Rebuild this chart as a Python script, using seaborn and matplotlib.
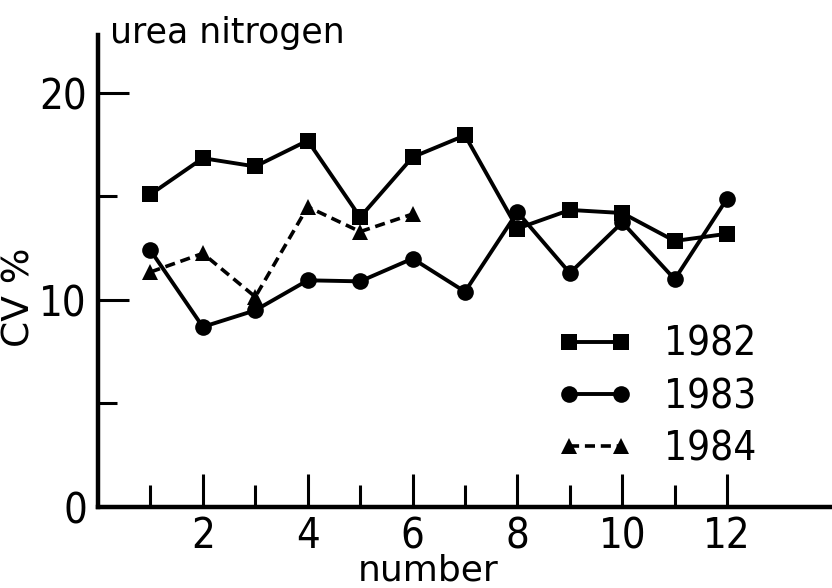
import matplotlib
matplotlib.use("Agg")
import matplotlib.pyplot as plt
import seaborn as sns
import pandas as pd

# ---- data ----
numbers = list(range(1, 13))
cv_1982 = [15.1, 16.85, 16.45, 17.7, 14.0, 16.9, 17.95, 13.45, 14.35, 14.2, 12.85, 13.2]
cv_1983 = [12.4, 8.7, 9.5, 10.95, 10.9, 12.0, 10.4, 14.25, 11.3, 13.75, 11.0, 14.9]
numbers_1984 = [1, 2, 3, 4, 5, 6]
cv_1984 = [11.35, 12.25, 10.15, 14.5, 13.3, 14.15]
series_labels = ["1982", "1983", "1984"]
x_major = [2, 4, 6, 8, 10, 12]
x_minor = [1, 3, 5, 7, 9, 11]
y_major = [0, 10, 20]
y_minor = [5, 15]

sns.set_theme(style="white")
plt.rcParams["font.family"] = ["DejaVu Sans"]
for k in ["text.color", "axes.labelcolor", "xtick.color", "ytick.color"]:
    plt.rcParams[k] = "black"

fig = plt.figure(figsize=(8.32, 5.88), dpi=100)
ax = fig.add_axes([98 / 832, 1 - 507 / 588, 1 - 98 / 832, (507 - 35) / 588])

df82 = pd.DataFrame({"number": numbers, "cv": cv_1982})
df83 = pd.DataFrame({"number": numbers, "cv": cv_1983})
df84 = pd.DataFrame({"number": numbers_1984, "cv": cv_1984})

sns.lineplot(data=df82, x="number", y="cv", ax=ax, color="black", marker="s",
             markersize=12, linewidth=2.8, markeredgewidth=0, label=series_labels[0])
sns.lineplot(data=df83, x="number", y="cv", ax=ax, color="black", marker="o",
             markersize=12, linewidth=2.8, markeredgewidth=0, label=series_labels[1])
sns.lineplot(data=df84, x="number", y="cv", ax=ax, color="black", marker="^",
             markersize=11, linewidth=2.6, markeredgewidth=0, dashes=(2.8, 1.6),
             label=series_labels[2])

ax.set_xlim(0, 14.0)
ax.set_ylim(0, 22.8)

for s in ["top", "right"]:
    ax.spines[s].set_visible(False)
for s in ["left", "bottom"]:
    ax.spines[s].set_color("black")
    ax.spines[s].set_linewidth(3.2)

ax.set_xticks(x_major)
ax.set_xticks(x_minor, minor=True)
ax.set_yticks(y_major)
ax.set_yticks(y_minor, minor=True)
ax.set_xticklabels([str(v) for v in x_major])
ax.set_yticklabels([str(v) for v in y_major])

ax.tick_params(axis="x", which="major", direction="in", length=24, width=2.2,
               color="black", pad=6, labelsize=30, bottom=True)
ax.tick_params(axis="x", which="minor", direction="in", length=16, width=2.2,
               color="black", bottom=True)
ax.tick_params(axis="y", which="major", direction="in", length=22, width=2.2,
               color="black", pad=8, labelsize=30, left=True)
ax.tick_params(axis="y", which="minor", direction="in", length=14, width=2.2,
               color="black", left=True)
for lab in ax.get_xticklabels() + ax.get_yticklabels():
    lab.set_fontstretch("condensed")

ax.set_xlabel("number", fontsize=26)
ax.xaxis.set_label_coords((428 - 98) / 734, -0.098)
ax.set_ylabel("CV %", fontsize=27)
ax.yaxis.set_label_coords(-0.082, 0.445)

fig.text(110 / 832, 1 - 43 / 588, "urea nitrogen", fontsize=25, va="baseline", ha="left")

leg = ax.legend(loc="upper left", bbox_to_anchor=(557 / 832, 1 - 325 / 588),
                bbox_transform=fig.transFigure, frameon=False, borderpad=0,
                borderaxespad=0, handlelength=1.9, handletextpad=0.75,
                labelspacing=0.3, numpoints=2,
                prop={"size": 29, "stretch": "condensed"})
for t in leg.get_texts():
    t.set_color("black")

fig.savefig("out.png", dpi=100)
